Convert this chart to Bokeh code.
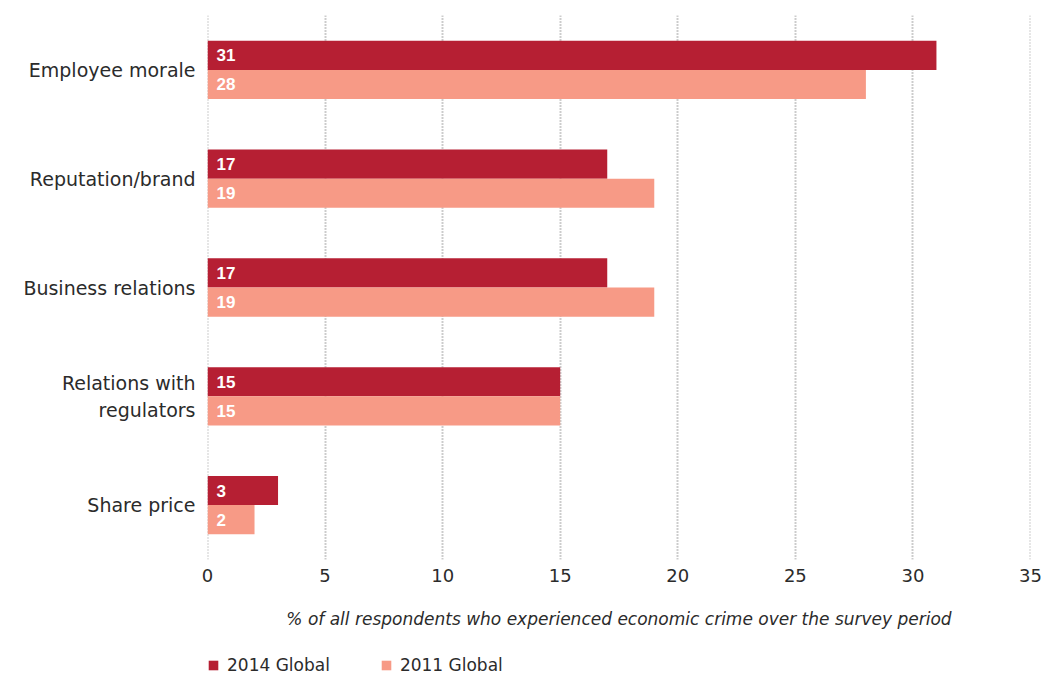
from bokeh.plotting import figure
from bokeh.layouts import column
from bokeh.models import ColumnDataSource, FactorRange, Legend, LegendItem, Span
from bokeh.transform import dodge
from bokeh.core.properties import value
from bokeh.embed import file_html
from bokeh.resources import INLINE

categories = ["Employee morale", "Reputation/brand", "Business relations",
              "Relations with\nregulators", "Share price"]
values_2014 = [31, 17, 17, 15, 3]
values_2011 = [28, 19, 19, 15, 2]
series_names = ["2014 Global", "2011 Global"]
x_ticks = [0, 5, 10, 15, 20, 25, 30, 35]
x_title = "% of all respondents who experienced economic crime over the survey period"

C14 = "#B61F33"
C11 = "#F79A86"
FONT = "DejaVu Sans"
TXT = "#2b2b2b"
GRID = "#9a9a9a"

src = ColumnDataSource(dict(
    cat=categories,
    v14=values_2014,
    v11=values_2011,
    l14=[str(v) for v in values_2014],
    l11=[str(v) for v in values_2011],
    z=[0] * len(categories),
))

p = figure(frame_width=823, frame_height=544,
           output_backend="svg", toolbar_location=None,
           x_range=(0, 35), y_range=FactorRange(*reversed(categories), range_padding=0),
           min_border_left=207, min_border_right=15, min_border_top=15, min_border_bottom=96)
p.outline_line_color = None
p.background_fill_color = "white"
p.border_fill_color = "white"

# grid lines at the range edges (not drawn by the grid itself)
for xv in (x_ticks[0], x_ticks[-1]):
    p.add_layout(Span(location=xv, dimension="height", line_color=GRID,
                      line_dash="1 2", line_width=2, level="underlay"))

off = 0.134
bh = 0.268
p.hbar(y=dodge("cat", off, range=p.y_range), left=0, right="v14", height=bh,
       fill_color=C14, line_color=None, source=src)
p.hbar(y=dodge("cat", -off, range=p.y_range), left=0, right="v11", height=bh,
       fill_color=C11, line_color=None, source=src)

for col, o in (("l14", off), ("l11", -off)):
    p.text(x="z", y=dodge("cat", o, range=p.y_range), text=col, source=src,
           x_offset=9, text_align="left", text_baseline="middle",
           text_color="white", text_font=value("Liberation Sans"), text_font_style="bold",
           text_font_size="17px")

p.xaxis.ticker = x_ticks
p.xaxis.axis_line_color = None
p.xaxis.major_tick_line_color = None
p.xaxis.minor_tick_line_color = None
p.xaxis.major_tick_out = 0
p.xaxis.major_tick_in = 0
p.xaxis.major_label_text_font = FONT
p.xaxis.major_label_text_font_size = "18px"
p.xaxis.major_label_text_color = TXT
p.xaxis.major_label_standoff = 9
p.xaxis.axis_label = x_title
p.xaxis.axis_label_text_font = FONT
p.xaxis.axis_label_text_font_size = "17px"
p.xaxis.axis_label_text_font_style = "italic"
p.xaxis.axis_label_text_color = TXT
p.xaxis.axis_label_standoff = 24

p.yaxis.axis_line_color = None
p.yaxis.major_tick_line_color = None
p.yaxis.minor_tick_line_color = None
p.yaxis.major_tick_out = 0
p.yaxis.major_tick_in = 0
p.yaxis.major_label_text_font = FONT
p.yaxis.major_label_text_font_size = "19px"
p.yaxis.major_label_text_color = TXT
p.yaxis.major_label_standoff = 12

p.ygrid.grid_line_color = None
p.xgrid.grid_line_color = GRID
p.xgrid.grid_line_dash = "1 2"
p.xgrid.grid_line_width = 2
p.xgrid.ticker = x_ticks

# legend strip below the chart (its frame is aligned with the chart's frame)
lg = figure(width=1045, height=20, output_backend="svg", toolbar_location=None,
            x_axis_location=None, y_axis_location=None,
            min_border=0, min_border_left=0, min_border_right=0,
            min_border_top=0, min_border_bottom=0)
lg.outline_line_color = None
lg.grid.grid_line_color = None
lg.border_fill_color = "white"
key_src = ColumnDataSource(dict(y=[0], w=[0]))
k14 = lg.hbar(y="y", right="w", height="w", fill_color=C14, line_color=None, source=key_src)
k11 = lg.hbar(y="y", right="w", height="w", fill_color=C11, line_color=None, source=key_src)
legend = Legend(items=[LegendItem(label=series_names[0], renderers=[k14], index=0),
                       LegendItem(label=series_names[1], renderers=[k11], index=0)],
                orientation="horizontal", location=(0, 0),
                label_text_font=FONT, label_text_font_size="17px", label_text_color=TXT,
                glyph_width=12, glyph_height=12, label_standoff=8, spacing=50,
                padding=0, margin=0, border_line_color=None, background_fill_alpha=0)
lg.add_layout(legend)

layout = column(p, lg, spacing=0)
open("out.html", "w").write(file_html(layout, INLINE))
